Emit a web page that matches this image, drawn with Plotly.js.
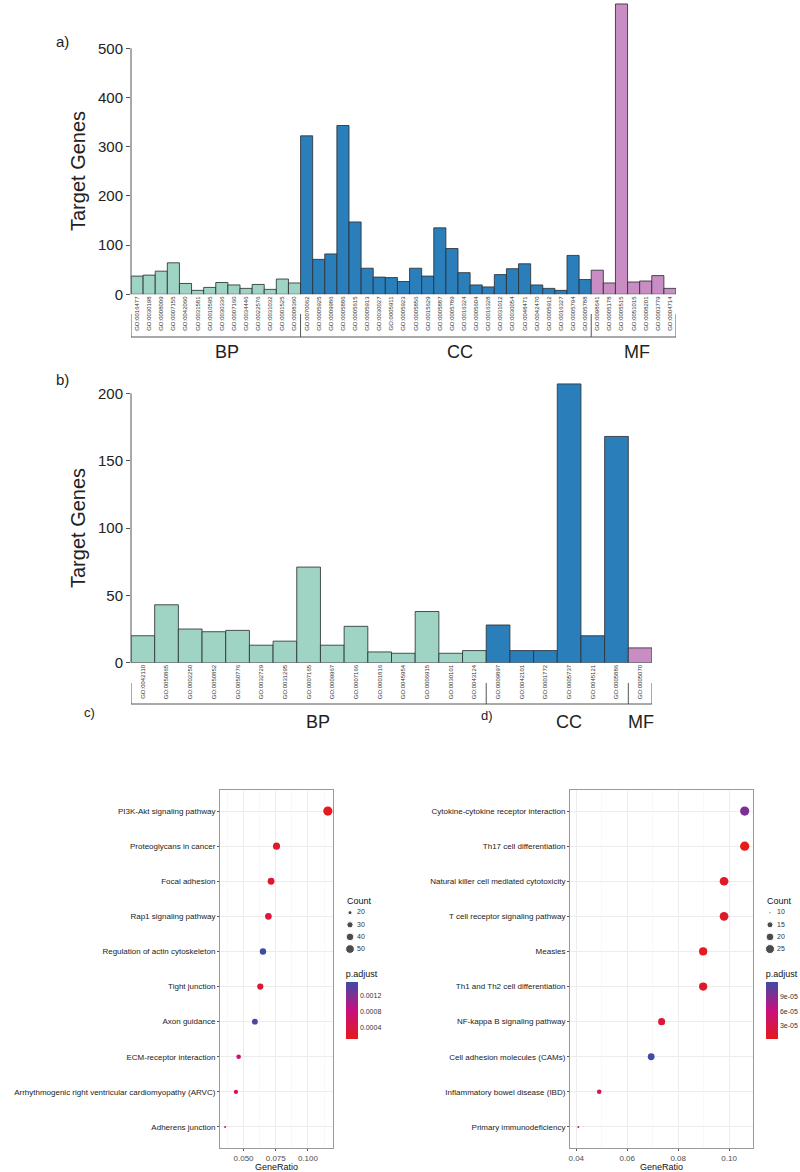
<!DOCTYPE html>
<html><head><meta charset="utf-8">
<script src="https://cdn.plot.ly/plotly-3.0.1.min.js"></script>
<style>html,body{margin:0;padding:0;background:#fff}</style>
</head><body><div id="chart" style="width:800px;height:1172px"></div>
<script>
// ---------- Panel a data ----------
const aBP = ['GO:0016477','GO:0030198','GO:0008009','GO:0007155','GO:0042060','GO:0031581','GO:0010595','GO:0030336','GO:0007160','GO:0034446','GO:0022576','GO:0031032','GO:0001525','GO:0008360'];
const aBPval = [37, 39, 47, 64, 22, 8, 14, 24, 19, 12, 20, 10, 31, 23];
const aCC = ['GO:0070062','GO:0005925','GO:0009986','GO:0005886','GO:0005615','GO:0005913','GO:0030027','GO:0005911','GO:0005923','GO:0005856','GO:0015629','GO:0005887','GO:0005789','GO:0016324','GO:0005604','GO:0016328','GO:0031012','GO:0030054','GO:0048471','GO:0042470','GO:0005912','GO:0016327','GO:0005794','GO:0005788'];
const aCCval = [322, 71, 82, 343, 147, 53, 35, 34, 26, 53, 37, 135, 93, 44, 19, 15, 40, 52, 62, 19, 12, 8, 79, 30];
const aMF = ['GO:0098641','GO:0005178','GO:0005515','GO:0051015','GO:0008201','GO:0003779','GO:0004714'];
const aMFval = [49, 23, 590, 25, 27, 38, 12];
const aYTicks = [0, 100, 200, 300, 400, 500];

// ---------- Panel b data ----------
const bBP = ['GO:0042110','GO:0050865','GO:0002250','GO:0050852','GO:0050776','GO:0032729','GO:0031295','GO:0007165','GO:0009967','GO:0007166','GO:0001816','GO:0045954','GO:0006915','GO:0030101','GO:0043124'];
const bBPval = [20, 43, 25, 23, 24, 13, 16, 71, 13, 27, 8, 7, 38, 7, 9];
const bCC = ['GO:0009897','GO:0042101','GO:0001772','GO:0005737','GO:0045121','GO:0005886'];
const bCCval = [28, 9, 9, 207, 20, 168];
const bMF = ['GO:0005070'];
const bMFval = [11];
const bYTicks = [0, 50, 100, 150, 200];

const groupNames = ['BP', 'CC', 'MF'];

// ---------- Panel c data ----------
const cTerms = ['PI3K-Akt signaling pathway','Proteoglycans in cancer','Focal adhesion','Rap1 signaling pathway','Regulation of actin cytoskeleton','Tight junction','Axon guidance','ECM-receptor interaction','Arrhythmogenic right ventricular cardiomyopathy (ARVC)','Adherens junction'];
const cRatio = [0.1155, 0.0756, 0.0714, 0.0693, 0.0651, 0.0630, 0.0588, 0.0462, 0.0441, 0.0357];
const cCount = [55, 36, 34, 33, 31, 30, 28, 22, 21, 17];
const cPadj = [0.00013, 0.00026, 0.00028, 0.00035, 0.00153, 0.00032, 0.00142, 0.00072, 0.00045, 0.00080];
const cXTicks = [0.05, 0.075, 0.1];
const cXTickText = ['0.050', '0.075', '0.100'];
const cCountLegend = [20, 30, 40, 50];
const cPadjTicks = [0.0004, 0.0008, 0.0012];
const cPadjTickText = ['0.0004', '0.0008', '0.0012'];

// ---------- Panel d data ----------
const dTerms = ['Cytokine-cytokine receptor interaction','Th17 cell differentiation','Natural killer cell mediated cytotoxicity','T cell receptor signaling pathway','Measles','Th1 and Th2 cell differentiation','NF-kappa B signaling pathway','Cell adhesion molecules (CAMs)','Inflammatory bowel disease (IBD)','Primary immunodeficiency'];
const dRatio = [0.1061, 0.1061, 0.0980, 0.0980, 0.0898, 0.0898, 0.0735, 0.0694, 0.0490, 0.0408];
const dCount = [26, 26, 24, 24, 22, 22, 18, 17, 12, 10];
const dPadj = [9.2e-5, 3.3e-6, 8e-6, 1.1e-5, 6e-6, 1.3e-5, 1.8e-5, 1.19e-4, 4.5e-5, 3e-5];
const dXTicks = [0.04, 0.06, 0.08, 0.10];
const dXTickText = ['0.04', '0.06', '0.08', '0.10'];
const dCountLegend = [10, 15, 20, 25];
const dPadjTicks = [3e-5, 6e-5, 9e-5];
const dPadjTickText = ['3e-05', '6e-05', '9e-05'];

// ---------- helpers ----------
const W = 800, H = 1172;
const px = x => x / W, py = y => 1 - y / H;
const FONT = 'Liberation Sans, Arial, sans-serif';
const fillCols = ['#9FD4C4', '#2A7EBA', '#C88DC3'];
const colorscale = [[0, '#E41A1C'], [0.5, '#C8107E'], [1, '#3F4BA5']];

function barTraces(labels, vals, xa, ya) {
  return labels.map((lab, i) => ({
    type: 'bar', x: lab, y: vals[i], xaxis: xa, yaxis: ya,
    marker: {color: fillCols[i], line: {color: 'rgba(45,50,55,0.85)', width: 1}},
    hoverinfo: 'x+y', showlegend: false
  }));
}
function sizeFn(counts) {
  const mn = Math.min(...counts), mx = Math.max(...counts);
  return v => 2 + 7.2 * Math.sqrt(Math.max(0, (v - mn) / (mx - mn)));
}
function expRange(arr) {
  const mn = Math.min(...arr), mx = Math.max(...arr), e = 0.05 * (mx - mn);
  return [mn - e, mx + e];
}

const aGroups = [aBP, aCC, aMF], aVals = [aBPval, aCCval, aMFval];
const bGroups = [bBP, bCC, bMF], bVals = [bBPval, bCCval, bMFval];
const aAll = [].concat(...aGroups), bAll = [].concat(...bGroups);

const traces = [];
traces.push(...barTraces(aGroups, aVals, 'x', 'y'));
traces.push(...barTraces(bGroups, bVals, 'x2', 'y2'));

const cSize = sizeFn(cCount), dSize = sizeFn(dCount);
function cbar(xLeft, bottom, tv, tt) {
  return {
    x: px(xLeft), xanchor: 'left', y: py(bottom), yanchor: 'bottom',
    len: 72, lenmode: 'pixels', thickness: 12, thicknessmode: 'pixels',
    outlinewidth: 0, xpad: 0, ypad: 0, ticks: '',
    tickvals: tv, ticktext: tt, tickfont: {size: 7, color: '#333', family: FONT},
    title: {text: 'p.adjust', side: 'top', font: {size: 9, color: '#111', family: FONT}}
  };
}
traces.push({
  type: 'scatter', mode: 'markers', x: cRatio, y: cTerms, xaxis: 'x3', yaxis: 'y3',
  marker: {size: cCount.map(cSize), color: cPadj, colorscale: colorscale, showscale: true, opacity: 1,
    line: {width: 0}, colorbar: cbar(345.7, 1039, cPadjTicks, cPadjTickText)},
  showlegend: false
});
traces.push({
  type: 'scatter', mode: 'markers', x: dRatio, y: dTerms, xaxis: 'x4', yaxis: 'y4',
  marker: {size: dCount.map(dSize), color: dPadj, colorscale: colorscale, showscale: true, opacity: 1,
    line: {width: 0}, colorbar: cbar(765.7, 1039, dPadjTicks, dPadjTickText)},
  showlegend: false
});
// size legends
function sizeLegend(vals, fn, xa, ya) {
  const idx = vals.map((v, i) => i);
  return [
    {type: 'scatter', mode: 'markers', x: vals.map(() => 10), y: idx, xaxis: xa, yaxis: ya,
      marker: {size: vals.map(fn), color: '#000'}, hoverinfo: 'skip', showlegend: false},
    {type: 'scatter', mode: 'text', x: vals.map(() => 17), y: idx, xaxis: xa, yaxis: ya,
      text: vals.map(String), textposition: 'middle right',
      textfont: {size: 7, color: '#333', family: FONT}, hoverinfo: 'skip', showlegend: false}
  ];
}
traces.push(...sizeLegend(cCountLegend, cSize, 'x5', 'y5'));
traces.push(...sizeLegend(dCountLegend, dSize, 'x6', 'y6'));

// ---------- layout ----------
function barX(domain, all) {
  return {domain: domain, type: 'category', categoryorder: 'array', categoryarray: all,
    range: [-0.5, all.length - 0.5], tickangle: -90, tickfont: {size: 6, color: '#333', family: FONT},
    ticks: '', showline: false, showgrid: false, zeroline: false, fixedrange: true};
}
function barY(domain, range, tv) {
  return {domain: domain, range: range, tickvals: tv, ticks: 'outside', ticklen: 4, tickcolor: '#555',
    tickfont: {size: 15, color: '#222', family: FONT}, showline: false, showgrid: false, zeroline: false};
}
function dotX(domain, ratios, tv, tt) {
  const r = expRange(ratios);
  const step = tv[1] - tv[0];
  const minor = [];
  for (let v = tv[0] - step / 2; v <= r[1]; v += step) if (v >= r[0]) minor.push(v);
  return {domain: domain, range: r, tickvals: tv, ticktext: tt, ticks: 'outside', ticklen: 2, tickcolor: '#555',
    tickfont: {size: 8, color: '#4d4d4d', family: FONT}, showgrid: true, gridcolor: '#ececec', gridwidth: 1,
    minor: {tickvals: minor, showgrid: true, gridcolor: '#f5f5f5', gridwidth: 0.6, ticks: ''},
    showline: true, mirror: true, linecolor: '#9a9a9a', linewidth: 1, zeroline: false};
}
function dotY(domain, terms) {
  return {domain: domain, type: 'category', categoryorder: 'array', categoryarray: terms.slice().reverse(),
    range: [-0.6, terms.length - 0.4], ticks: 'outside', ticklen: 2, tickcolor: '#555',
    tickfont: {size: 8, color: '#222', family: FONT}, showgrid: true, gridcolor: '#ececec',
    showline: true, mirror: true, linecolor: '#9a9a9a', linewidth: 1, zeroline: false};
}
function hidden(domain, range) {
  return {domain: domain, range: range, visible: false, fixedrange: true};
}

const shapes = [];
const annotations = [];
function bracket(groups, xa, yTop, yLine, axLineX, yaxRef, yMaxTick) {
  const bounds = [-0.5];
  let acc = 0;
  groups.forEach(g => { acc += g.length; bounds.push(acc - 0.5); });
  const line = {color: '#555', width: 1};
  shapes.push({type: 'line', xref: xa, yref: 'paper', x0: bounds[0], x1: bounds[bounds.length - 1], y0: py(yLine), y1: py(yLine), line: line});
  bounds.forEach(b => shapes.push({type: 'line', xref: xa, yref: 'paper', x0: b, x1: b, y0: py(yTop), y1: py(yLine), line: line}));
  shapes.push({type: 'line', xref: 'paper', yref: yaxRef, x0: px(axLineX), x1: px(axLineX), y0: 0, y1: yMaxTick, line: {color: '#555', width: 1}});
}
bracket(aGroups, 'x', 314, 337, 131, 'y', aYTicks[aYTicks.length - 1]);
bracket(bGroups, 'x2', 683, 704, 131, 'y2', bYTicks[bYTicks.length - 1]);

function ann(text, x, y, size, extra) {
  annotations.push(Object.assign({text: text, xref: 'paper', yref: 'paper', x: px(x), y: py(y),
    showarrow: false, font: {size: size, color: '#222', family: FONT}, xanchor: 'center', yanchor: 'middle'}, extra || {}));
}
const aGroupX = [227, 460, 637], bGroupX = [318, 569, 641];
groupNames.forEach((g, i) => { ann(g, aGroupX[i], 352, 18); ann(g, bGroupX[i], 722, 18); });
ann('Target Genes', 78, 171, 20, {textangle: -90});
ann('Target Genes', 78, 528, 20, {textangle: -90});
ann('a)', 62, 42, 15);
ann('b)', 62, 380, 15);
ann('c)', 89, 712, 13);
ann('d)', 487, 715, 13);
ann('GeneRatio', 276.5, 1167, 9, {font: {size: 9, color: '#111', family: FONT}});
ann('GeneRatio', 661.5, 1167, 9, {font: {size: 9, color: '#111', family: FONT}});
ann('Count', 345, 901, 9, {xanchor: 'left', font: {size: 9, color: '#111', family: FONT}});
ann('Count', 765, 901, 9, {xanchor: 'left', font: {size: 9, color: '#111', family: FONT}});

const layout = {
  width: W, height: H, margin: {l: 0, r: 0, t: 0, b: 0},
  paper_bgcolor: '#fff', plot_bgcolor: '#fff', showlegend: false,
  barmode: 'overlay', bargap: 0,
  font: {family: FONT, color: '#222'},
  xaxis: barX([px(131), px(676)], aAll),
  yaxis: barY([py(294.3), py(1.5)], [0, 595], aYTicks),
  xaxis2: barX([px(131), px(652)], bAll),
  yaxis2: barY([py(662.7), py(380)], [0, 209.9], bYTicks),
  xaxis3: dotX([px(220), px(333)], cRatio, cXTicks, cXTickText),
  yaxis3: dotY([py(1148), py(790)], cTerms),
  xaxis4: dotX([px(570), px(753)], dRatio, dXTicks, dXTickText),
  yaxis4: dotY([py(1148), py(790)], dTerms),
  xaxis5: hidden([px(340), px(400)], [0, 60]),
  yaxis5: hidden([py(955.1), py(906.6)], [3.5, -0.5]),
  xaxis6: hidden([px(760), px(800)], [0, 40]),
  yaxis6: hidden([py(955.1), py(906.6)], [3.5, -0.5]),
  shapes: shapes, annotations: annotations
};
layout.xaxis2.anchor = 'y2'; layout.yaxis2.anchor = 'x2';
layout.xaxis3.anchor = 'y3'; layout.yaxis3.anchor = 'x3';
layout.xaxis4.anchor = 'y4'; layout.yaxis4.anchor = 'x4';
layout.xaxis5.anchor = 'y5'; layout.yaxis5.anchor = 'x5';
layout.xaxis6.anchor = 'y6'; layout.yaxis6.anchor = 'x6';

Plotly.newPlot('chart', traces, layout, {displayModeBar: false, staticPlot: true});
</script></body></html>
